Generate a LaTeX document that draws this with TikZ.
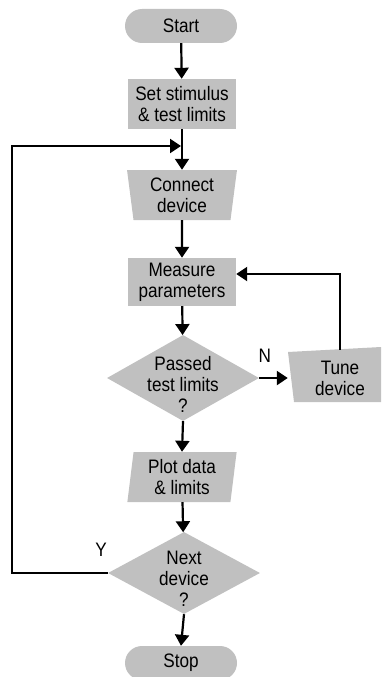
\documentclass[tikz,border=0pt]{standalone}
\usepackage{fontspec}
\setmainfont{Liberation Sans}[FakeStretch=0.88]
\usetikzlibrary{shapes.geometric}
\usetikzlibrary{arrows.meta}
\usetikzlibrary{positioning}
\definecolor{boxgray}{RGB}{192,192,192}

\begin{document}
\begin{tikzpicture}[x=1pt,y=-1pt,
every node/.style={font=\fontsize{19.5}{21}\selectfont,align=center,inner sep=0pt},
terminal/.style={fill=boxgray,rounded corners=17pt,minimum width=112pt,minimum height=34pt},
process/.style={fill=boxgray,minimum width=108pt,minimum height=50pt},
manual/.style={trapezium,trapezium stretches=true,shape border rotate=180,trapezium left angle=83,trapezium right angle=83,fill=boxgray,minimum width=110pt,minimum height=50pt},
data/.style={trapezium,trapezium stretches=true,trapezium left angle=83,trapezium right angle=97,fill=boxgray,minimum width=110pt,minimum height=50pt},
decision/.style={diamond,fill=boxgray,minimum width=152pt},
flow/.style={line width=2.2pt,-{Triangle[length=11pt,width=14pt]}}]
\useasboundingbox (0,0) rectangle (385,677);
\node[terminal] (start) at (181,26) {Start};
\node[process] (setlim) at (182,104) {Set stimulus\\\& test limits};
\node[manual] (connect) at (182,195) {Connect\\device};
\node[process,minimum height=48pt] (measure) at (182,282) {Measure\\parameters};
\node[decision,minimum height=86pt,label={[yshift=-6pt]center:{Passed\\test limits\\?}}] (passed) at (183,378) {};
\fill[boxgray] (288,352)--(381,347)--(381,402)--(294,402)--cycle;
\node[minimum width=104pt,minimum height=56pt] (tune) at (340,378) {Tune\\device};
\node[data] (plot) at (182,477) {Plot data\\\& limits};
\node[decision,minimum height=82pt,label={[yshift=-6pt]center:{Next\\device\\?}}] (next) at (184,573) {};
\node[terminal] (stop) at (181,663) {Stop};
\coordinate (loopin) at (181,146);
\coordinate (loopx) at (12,0);
\draw[flow] (start) -- (setlim);
\draw[flow] (setlim) -- (connect);
\draw[flow] (connect) -- (measure);
\draw[flow] (measure) -- (passed);
\draw[flow] (passed.south) -- (plot.north);
\draw[flow] (plot) -- (next);
\draw[flow] (next.south) -- (stop.north);
\draw[flow] (passed.east) -- (tune.west) node[pos=.2,above=14pt] (nlabel) {N};
\draw[flow] (tune.north) |- ([yshift=8pt]measure.east);
\draw[flow] (next.west) node[above left=15pt and 0pt] (ylabel) {Y} -| (loopx |- loopin) -- (loopin);
\end{tikzpicture}
\end{document}
